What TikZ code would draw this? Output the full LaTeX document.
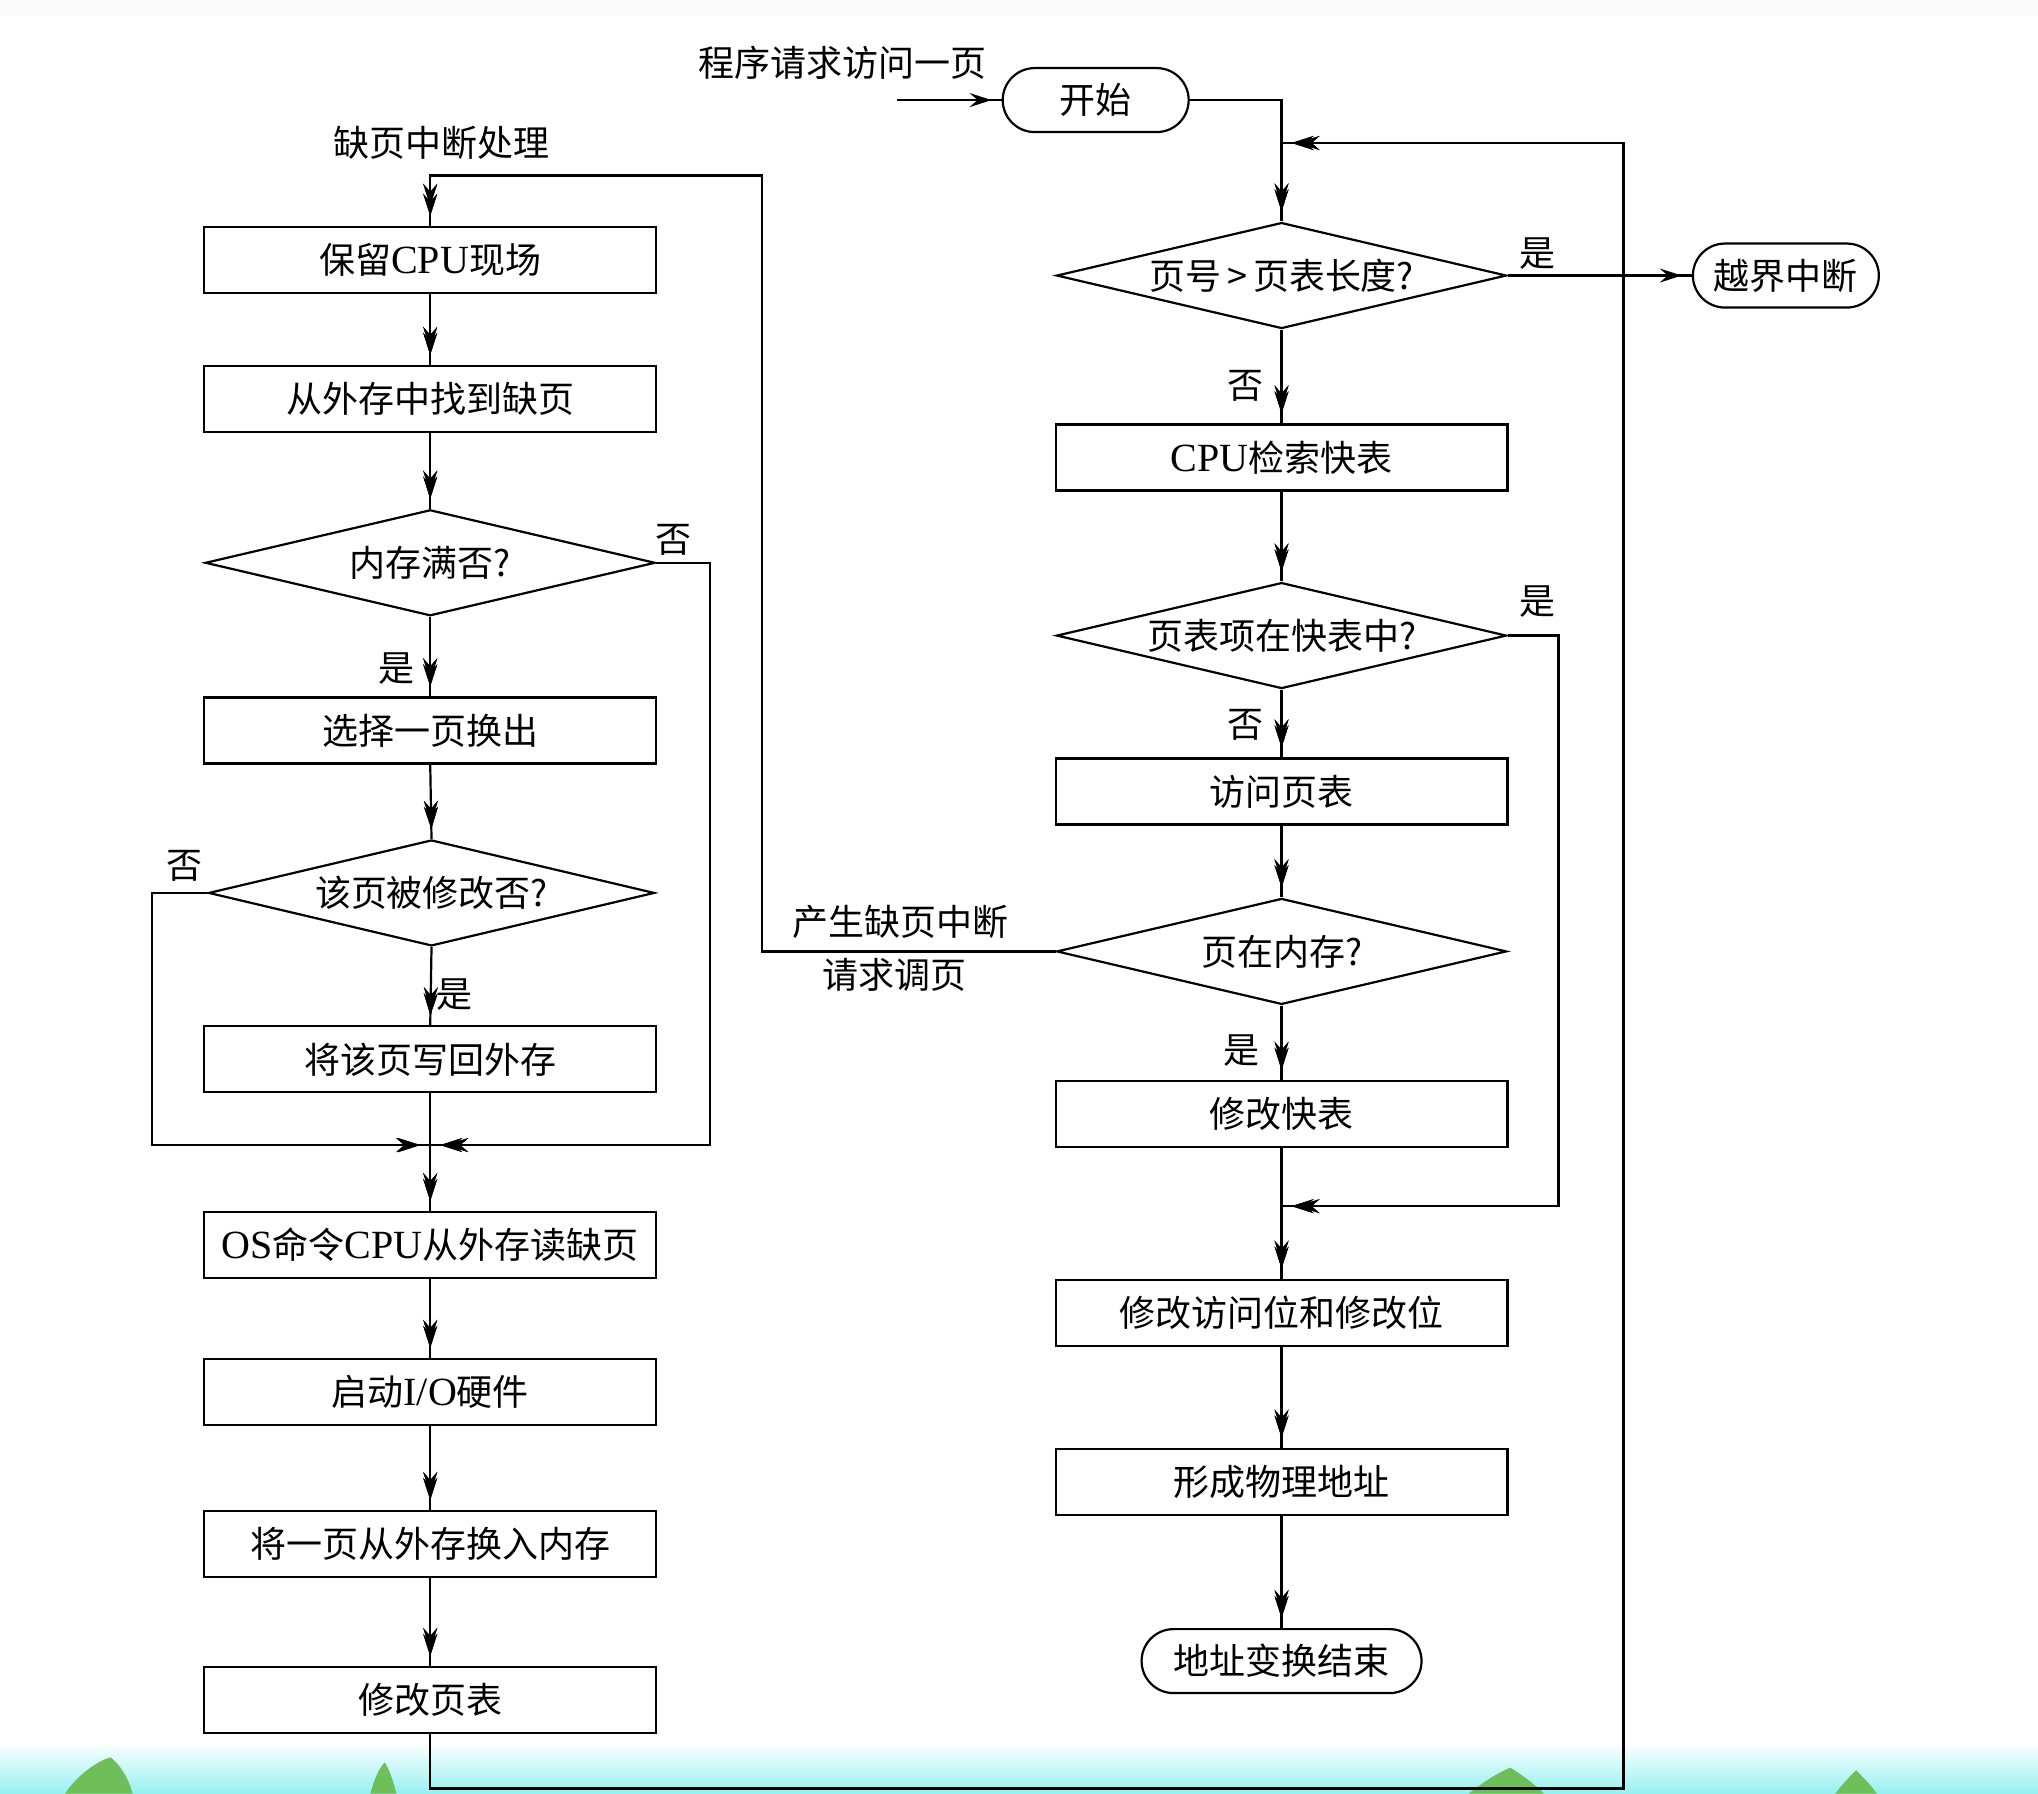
\documentclass[tikz,border=0pt]{standalone}
\usepackage{fontspec}
\setmainfont{Liberation Serif}
\newfontfamily\cjk{Noto Sans CJK SC}
\newfontfamily\latn{Liberation Serif}
\usetikzlibrary{shapes.geometric,shapes.misc,arrows.meta,decorations.markings}
\definecolor{leafgreen}{RGB}{110,190,90}
\definecolor{bandcyan}{RGB}{150,240,240}
\newcommand{\lt}[1]{{\latn\fontsize{20}{20}\selectfont #1}}
\tikzset{
  u/.style={x=0.65pt,y=-0.65pt},
  txt/.style={font=\cjk\fontsize{18}{20}\selectfont, inner sep=0pt},
  pbox/.style={draw, line width=1.1pt, rectangle, minimum width=226pt, minimum height=33pt, inner sep=0pt, font=\cjk\fontsize{18}{20}\selectfont},
  dbox/.style={draw, line width=1.1pt, diamond, aspect=4.1, minimum width=225pt, minimum height=53pt, inner sep=0pt, font=\cjk\fontsize{18}{20}\selectfont},
  term/.style={draw, line width=1.1pt, rounded rectangle, minimum height=32pt, inner sep=0pt, font=\cjk\fontsize{18}{20}\selectfont},
  conn/.style={line width=1.1pt},
  tipend/.style={postaction={decorate}, decoration={markings, mark=at position -#1 with {\arrow{Stealth[length=11pt,width=7pt,inset=4pt]}}}},
  flow/.style={conn, tipend=5pt},
}
\begin{document}
\begin{tikzpicture}[u]
\useasboundingbox (0,0) rectangle (1568,1380);
% background
\fill[white] (0,0) rectangle (1568,1380);
\fill[black!2] (0,0) rectangle (1568,12);
\shade[top color=white, bottom color=bandcyan] (0,1340) rectangle (1568,1380);
\fill[leafgreen] (50,1380) .. controls (60,1365) and (75,1355) .. (85,1352) .. controls (95,1360) and (100,1372) .. (102,1380) -- cycle;
\fill[leafgreen] (285,1380) .. controls (288,1368) and (292,1360) .. (296,1356) .. controls (300,1362) and (303,1372) .. (305,1380) -- cycle;
\fill[leafgreen] (1130,1380) .. controls (1140,1372) and (1152,1364) .. (1162,1360) .. controls (1172,1366) and (1182,1374) .. (1188,1380) -- cycle;
\fill[leafgreen] (1412,1380) .. controls (1418,1372) and (1424,1366) .. (1428,1362) .. controls (1434,1368) and (1440,1374) .. (1444,1380) -- cycle;

% ---------- right column ----------
\node[term, minimum width=93pt] (start) at (843,77) {开始};
\node[txt] (tstart) at (648,48) {程序请求访问一页};
\coordinate (in) at (690,77);
\node[dbox] (d1) at (986,212) {页号\,>\,页表长度?};
\node[term, minimum width=93pt] (oob) at (1374,212) {越界中断};
\node[pbox] (r1) at (986,352) {\lt{CPU}检索快表};
\node[dbox] (d2) at (986,489) {页表项在快表中?};
\node[pbox] (r2) at (986,609) {访问页表};
\node[dbox] (d3) at (986,732) {页在内存?};
\node[pbox] (r3) at (986,857) {修改快表};
\node[pbox] (r4) at (986,1010) {修改访问位和修改位};
\node[pbox] (r5) at (986,1140) {形成物理地址};
\node[term, minimum width=140pt] (fin) at (986,1278) {地址变换结束};

% ---------- left column ----------
\node[txt] (tfault) at (340,110) {缺页中断处理};
\node[pbox] (l1) at (331,200) {保留\lt{CPU}现场};
\node[pbox] (l2) at (331,307) {从外存中找到缺页};
\node[dbox] (ld1) at (331,433) {内存满否?};
\node[pbox] (l3) at (331,562) {选择一页换出};
\node[dbox, minimum width=223pt] (ld2) at (332,687) {该页被修改否?};
\node[pbox] (l4) at (331,815) {将该页写回外存};
\node[pbox] (l5) at (331,958) {\lt{OS}命令\lt{CPU}从外存读缺页};
\node[pbox] (l6) at (331,1071) {启动\lt{I/O}硬件};
\node[pbox] (l7) at (331,1188) {将一页从外存换入内存};
\node[pbox] (l8) at (331,1308) {修改页表};

% junction coordinates
\coordinate (jtop) at (986,110);
\coordinate (jmid) at (986,928);
\coordinate (jleft) at (331,881);

% ---------- connectors right ----------
\draw[flow] (in) -- (start.west);
\draw[flow, tipend=8pt] (start.east) -| (d1.north);
\draw[flow] (d1.east) -- (oob.west);
\node[txt] (yes1) at (1183,195) {是};
\draw[flow, tipend=8pt] (d1.south) -- (r1.north);
\node[txt] (no1) at (958,297) {否};
\draw[flow, tipend=8pt] (r1.south) -- (d2.north);
\draw[flow, tipend=8pt] (d2.south) -- (r2.north);
\node[txt] (no2) at (958,558) {否};
\draw[flow, tipend=8pt] (d2.east) -- (1199,489) -- (1199,928) -- (jmid);
\node[txt] (yes2) at (1183,463) {是};
\draw[flow, tipend=8pt] (r2.south) -- (d3.north);
\draw[flow, tipend=8pt] (d3.south) -- (r3.north);
\node[txt] (yes3) at (955,808) {是};
\draw[flow, tipend=8pt] (r3.south) -- (r4.north);
\draw[flow, tipend=8pt] (r4.south) -- (r5.north);
\draw[flow, tipend=8pt] (r5.south) -- (fin.north);
\draw[flow, tipend=10pt] (d3.west) -- (586,732) -- (586,135) -- (331,135) -- (l1.north);
\node[txt] (tgen) at (693,709) {产生缺页中断};
\node[txt] (treq) at (688,750) {请求调页};

% ---------- connectors left ----------
\draw[flow, tipend=8pt] (l1.south) -- (l2.north);
\draw[flow, tipend=8pt] (l2.south) -- (ld1.north);
\draw[flow, tipend=8pt] (ld1.south) -- (l3.north);
\node[txt] (yes4) at (305,514) {是};
\draw[flow, tipend=8pt] (ld1.east) -- (546,433) -- (546,881) -- (jleft);
\node[txt] (no4) at (518,415) {否};
\draw[flow, tipend=8pt] (l3.south) -- (ld2.north);
\draw[flow, tipend=8pt] (ld2.south) -- (l4.north);
\node[txt] (yes5) at (350,765) {是};
\draw[flow, tipend=6pt] (ld2.west) -- (117,687) -- (117,881) -- (jleft);
\node[txt] (no5) at (142,666) {否};
\draw[flow, tipend=8pt] (l4.south) -- (l5.north);
\draw[flow, tipend=8pt] (l5.south) -- (l6.north);
\draw[flow, tipend=8pt] (l6.south) -- (l7.north);
\draw[flow, tipend=8pt] (l7.south) -- (l8.north);
\draw[flow, tipend=8pt] (l8.south) -- (331,1376) -- (1249,1376) -- (1249,110) -- (jtop);
\end{tikzpicture}
\end{document}
